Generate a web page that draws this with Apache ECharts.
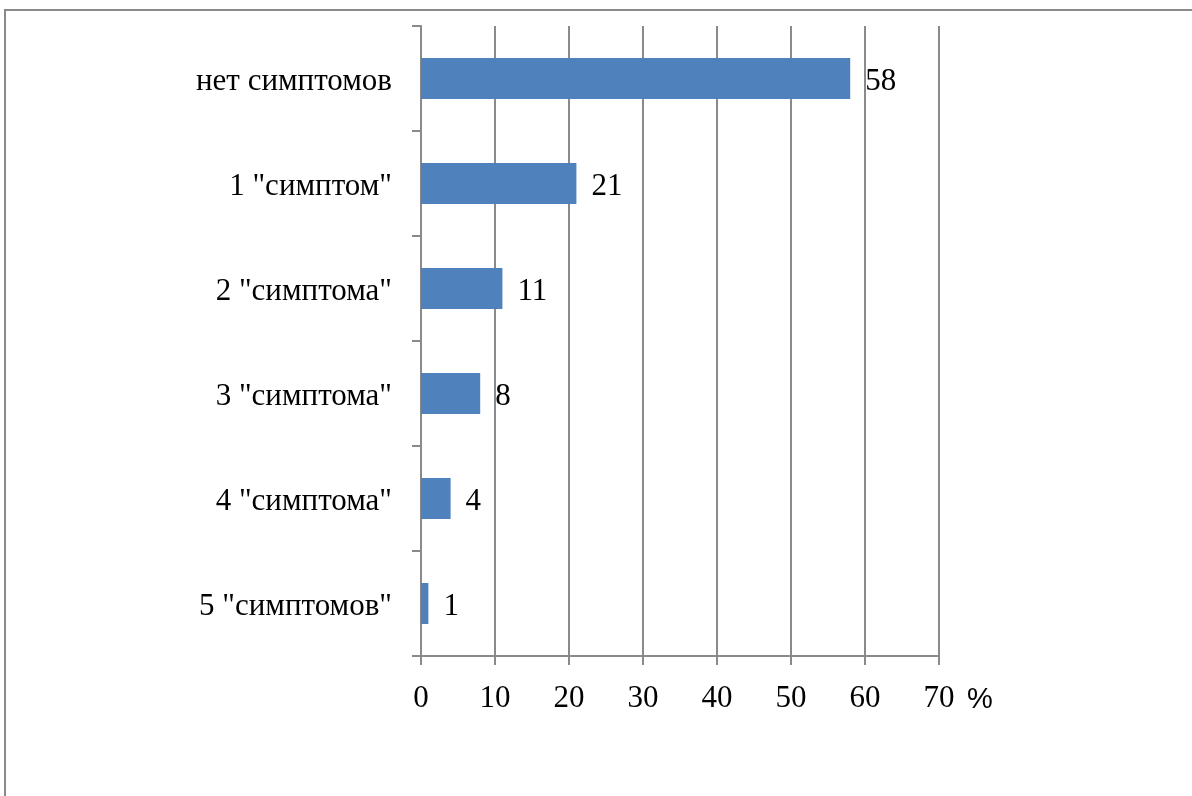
<!DOCTYPE html>
<html lang="ru">
<head>
<meta charset="utf-8">
<title>Симптомы</title>
<script src="https://cdn.jsdelivr.net/npm/echarts@6/dist/echarts.min.js"></script>
<style>
	html, body { margin: 0; padding: 0; background: #fff; }
</style>
</head>
<body>
	<div id="main" style="width: 1192px;height:796px;"></div>
	<script type="text/javascript">
		// категории и значения (%)
		var categories = ['нет симптомов', '1 "симптом"', '2 "симптома"', '3 "симптома"', '4 "симптома"', '5 "симптомов"'];
		var values = [58, 21, 11, 8, 4, 1];
		var xTicks = [0, 10, 20, 30, 40, 50, 60, 70];

		var gray = '#8a8a8a';
		var serif = '"Liberation Serif", "Times New Roman", serif';

		var myChart = echarts.init(document.getElementById('main'));
		var option = {
			backgroundColor: '#fff',
			animation: false,
			grid: {
				left: 421,
				right: 253,
				top: 26,
				bottom: 140
			},
			xAxis: {
				type: 'value',
				min: xTicks[0],
				max: xTicks[xTicks.length - 1],
				interval: 10,
				axisLine: { show: true, lineStyle: { color: gray, width: 2 } },
				axisTick: { show: true, length: 9, lineStyle: { color: gray, width: 2 } },
				splitLine: { show: true, lineStyle: { color: gray, width: 2 } },
				axisLabel: {
					margin: 27,
					color: '#000',
					fontFamily: serif,
					fontSize: 31
				}
			},
			yAxis: {
				type: 'category',
				inverse: true,
				data: categories,
				axisLine: { show: true, lineStyle: { color: gray, width: 2 } },
				axisTick: { show: true, length: 9, lineStyle: { color: gray, width: 2 } },
				axisLabel: {
					margin: 29,
					formatter: function (v) { return '{a|' + v + '}'; },
					rich: {
						a: {
							color: '#000',
							fontFamily: serif,
							fontSize: 31,
							padding: [6, 0, 0, 0]
						}
					}
				}
			},
			series: [
				{
					type: 'bar',
					data: values,
					barWidth: '39%',
					itemStyle: { color: '#4f81bd' },
					label: {
						show: true,
						position: 'right',
						distance: 15,
						offset: [0, 3],
						color: '#000',
						fontFamily: serif,
						fontSize: 31
					}
				}
			],
			graphic: [
				{
					type: 'rect',
					shape: { x: 5, y: 10, width: 1300, height: 900 },
					style: { fill: null, stroke: '#8a8a8a', lineWidth: 2 },
					silent: true
				},
				{
					type: 'text',
					left: 967,
					top: 685,
					style: {
						text: '%',
						fill: '#000',
						font: '29px "Liberation Sans", Arial, sans-serif'
					}
				}
			]
		};

		myChart.setOption(option);
	</script>
</body>
</html>
